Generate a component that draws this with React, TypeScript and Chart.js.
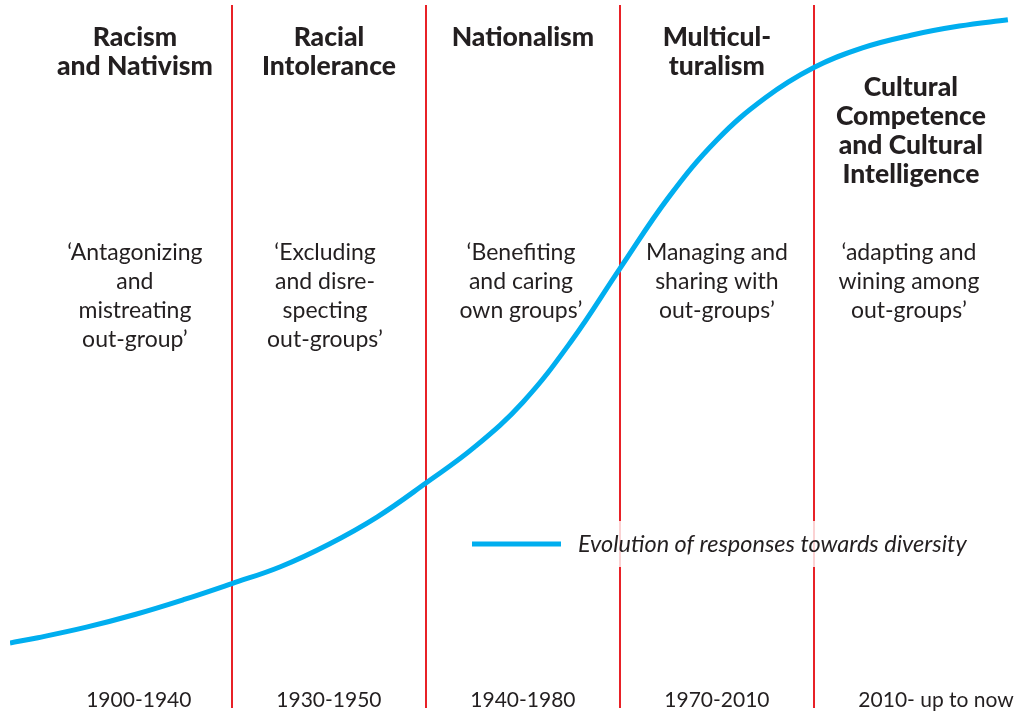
import React, { useEffect, useRef } from "react";
import { Chart, registerables } from "chart.js";

Chart.register(...registerables);

// Period boundaries (red dividers) in period units
const dividers = [1, 2, 3, 4];

// Curve: x in period units, y on 0..100 scale
const curveX = [-0.144, 0, 0.25, 0.5, 0.75, 1.0, 1.25, 1.5, 1.75, 2.0, 2.25, 2.5, 2.75, 3.0, 3.25, 3.5, 3.75, 4.0, 4.25, 4.5, 4.75, 5.0];
const curveY = [9.25, 10.0, 11.5, 13.3, 15.4, 17.7, 20.1, 23.3, 27.2, 32.0, 37.1, 43.5, 52.2, 62.5, 72.6, 80.8, 86.8, 91.1, 93.9, 95.7, 97.0, 97.9];

const titleCenters = [0.5, 1.5, 2.5, 3.5, 4.5];
const titles = [
  ["Racism", "and Nativism"],
  ["Racial", "Intolerance"],
  ["Nationalism"],
  ["Multicul-", "turalism"],
  ["Cultural", "Competence", "and Cultural", "Intelligence"],
];
const titleTopLine = [0, 0, 0, 0, 1.75];

const descCenters = [0.5, 1.48, 2.49, 3.5, 4.49];
const descriptions = [
  ["\u2018Antagonizing", "and", "mistreating", "out-group\u2019"],
  ["\u2018Excluding", "and disre-", "specting", "out-groups\u2019"],
  ["\u2018Benefiting", "and caring", "own groups\u2019"],
  ["Managing and", "sharing with", "out-groups\u2019"],
  ["\u2018adapting and", "wining among", "out-groups\u2019"],
];

const periodCenters = [0.52, 1.5, 2.5, 3.5, 4.63];
const periodLabels = ["1900-1940", "1930-1950", "1940-1980", "1970-2010", "2010- up to now"];

const seriesLabel = "Evolution of responses towards diversity";

const BLUE = "#00AEEF";
const RED = "#E82127";
const TEXT = "#231F20";
const FONT = "Lato, 'Noto Sans', sans-serif";

const overlayPlugin = {
  id: "overlay",
  beforeDatasetsDraw(chart: any) {
    const { ctx, chartArea, scales } = chart;
    ctx.save();
    ctx.strokeStyle = RED;
    ctx.lineWidth = 2;
    dividers.forEach((d) => {
      const x = Math.round(scales.x.getPixelForValue(d));
      ctx.beginPath();
      ctx.moveTo(x, chartArea.top);
      ctx.lineTo(x, chartArea.bottom);
      ctx.stroke();
    });
    ctx.restore();
  },
  afterDatasetsDraw(chart: any) {
    const { ctx, chartArea, scales } = chart;
    const top = chartArea.top;
    ctx.save();
    ctx.fillStyle = TEXT;
    ctx.textAlign = "center";
    ctx.textBaseline = "middle";

    // Titles
    ctx.font = `900 26.5px ${FONT}`;
    titles.forEach((lines, i) => {
      const x = scales.x.getPixelForValue(titleCenters[i]);
      lines.forEach((ln, j) => {
        ctx.fillText(ln, x, top + 32 + (titleTopLine[i] + j) * 29);
      });
    });

    // Descriptions
    ctx.font = `23px ${FONT}`;
    descriptions.forEach((lines, i) => {
      const x = scales.x.getPixelForValue(descCenters[i]);
      lines.forEach((ln, j) => {
        ctx.fillText(ln, x, top + 248 + j * 29);
      });
    });

    // Period labels
    ctx.font = `21px ${FONT}`;
    periodLabels.forEach((lb, i) => {
      const x = scales.x.getPixelForValue(periodCenters[i]);
      ctx.fillText(lb, x, top + 695);
    });

    // Legend
    const lx = chartArea.left + (chartArea.right - chartArea.left) * 0.462;
    const ly = top + 539;
    ctx.fillStyle = "rgba(255,255,255,0.8)";
    ctx.fillRect(lx - 6, ly - 23, 510, 46);
    ctx.strokeStyle = BLUE;
    ctx.lineWidth = 5;
    ctx.beginPath();
    ctx.moveTo(lx, ly);
    ctx.lineTo(lx + 89, ly);
    ctx.stroke();
    ctx.fillStyle = TEXT;
    ctx.textAlign = "left";
    ctx.font = `italic 23.5px ${FONT}`;
    ctx.fillText(seriesLabel, lx + 106, ly);
    ctx.restore();
  },
};

export default function App() {
  const ref = useRef<HTMLCanvasElement>(null);
  useEffect(() => {
    if (!ref.current) return;
    const chart = new Chart(ref.current, {
      type: "line",
      data: {
        datasets: [
          {
            label: seriesLabel,
            data: curveX.map((x, i) => ({ x, y: curveY[i] })),
            borderColor: BLUE,
            borderWidth: 5,
            pointRadius: 0,
            tension: 0.4,
            fill: false,
          },
        ],
      },
      options: {
        animation: false,
        responsive: true,
        maintainAspectRatio: false,
        layout: { padding: { left: 10, right: 17, top: 5, bottom: 6 } },
        plugins: { legend: { display: false }, tooltip: { enabled: false } },
        scales: {
          x: { type: "linear", min: -0.144, max: 5.011, display: false },
          y: { type: "linear", min: 0, max: 100, display: false },
        },
      },
      plugins: [overlayPlugin],
    });
    return () => chart.destroy();
  }, []);
  return (
    <div style={{ position: "fixed", left: 0, top: 0, width: 1027, height: 714, background: "#fff" }}>
      <canvas ref={ref} />
    </div>
  );
}
